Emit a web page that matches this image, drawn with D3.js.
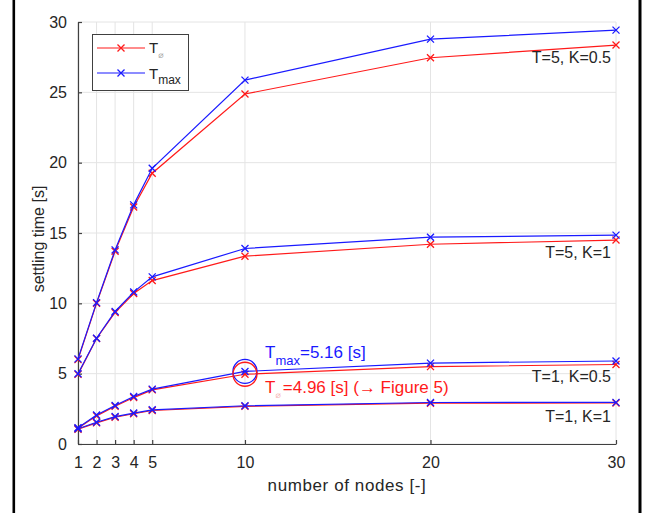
<!DOCTYPE html>
<html>
<head>
<meta charset="utf-8">
<script src="https://cdn.jsdelivr.net/npm/d3@7"></script>
<style>
  html, body { margin: 0; padding: 0; background: #fff; }
  svg { display: block; font-family: "Liberation Sans", Arial, Helvetica, sans-serif; }
</style>
</head>
<body>
<svg id="chart" width="652" height="513"></svg>
<script>
// Number of nodes on the x axis
const nodes = [1, 2, 3, 4, 5, 10, 20, 30];

// Settling times [s]: mean (avg) and maximum for each parameter set
const avgT5K05 = [6.0, 10.0, 13.7, 16.85, 19.25, 24.88, 27.46, 28.36];
const maxT5K05 = [6.05, 10.05, 13.8, 17.0, 19.6, 25.87, 28.78, 29.42];
const avgT5K1  = [4.95, 7.5, 9.35, 10.7, 11.62, 13.35, 14.2, 14.5];
const maxT5K1  = [5.0, 7.52, 9.42, 10.8, 11.88, 13.9, 14.7, 14.85];
const avgT1K05 = [1.12, 2.0, 2.68, 3.3, 3.85, 4.96, 5.5, 5.65];
const maxT1K05 = [1.16, 2.06, 2.74, 3.38, 3.9, 5.16, 5.75, 5.9];
const avgT1K1  = [1.05, 1.5, 1.9, 2.15, 2.38, 2.68, 2.9, 2.92];
const maxT1K1  = [1.08, 1.55, 1.95, 2.2, 2.43, 2.72, 2.95, 2.96];

const curveLabels = ["T=5, K=0.5", "T=5, K=1", "T=1, K=0.5", "T=1, K=1"];
const xTicks = [1, 2, 3, 4, 5, 10, 20, 30];
const yTicks = [0, 5, 10, 15, 20, 25, 30];

// Highlighted point: n = 10 for T=1, K=0.5
const highlightNode = 10;
const highlightMax = 5.16;
const highlightAvg = 4.96;

const avgSeries = [avgT5K05, avgT5K1, avgT1K05, avgT1K1];
const maxSeries = [maxT5K05, maxT5K1, maxT1K05, maxT1K1];

const RED = "#ff1a1a";
const BLUE = "#1a1aff";
const AXIS = "#404040";
const TEXT = "#262626";

const svg = d3.select("#chart");
const W = 652, H = 513;

// frame lines on left and right
svg.append("line").attr("x1", 13.8).attr("x2", 13.8).attr("y1", 0).attr("y2", H)
  .attr("stroke", "#000").attr("stroke-width", 2.6);
svg.append("line").attr("x1", 640).attr("x2", 640).attr("y1", 0).attr("y2", H)
  .attr("stroke", "#000").attr("stroke-width", 3);

const x = d3.scaleLinear().domain([1, 30]).range([78, 616]);
const y = d3.scaleLinear().domain([0, 30]).range([444, 22]);

// grid
const grid = svg.append("g").attr("stroke", "#e4e4e4").attr("stroke-width", 1);
xTicks.forEach(t => grid.append("line")
  .attr("x1", x(t)).attr("x2", x(t)).attr("y1", y(0)).attr("y2", y(30)));
yTicks.forEach(t => grid.append("line")
  .attr("x1", x(1)).attr("x2", x(30)).attr("y1", y(t)).attr("y2", y(t)));

// axes (ticks pointing inward)
const xAxis = d3.axisBottom(x).tickValues(xTicks).tickSizeInner(-4).tickSizeOuter(0).tickPadding(13);
const yAxis = d3.axisLeft(y).tickValues(yTicks).tickSizeInner(-4).tickSizeOuter(0).tickPadding(11);

const gx = svg.append("g").attr("transform", `translate(0,${y(0)})`).call(xAxis);
const gy = svg.append("g").attr("transform", `translate(${x(1)},0)`).call(yAxis);
[gx, gy].forEach(g => {
  g.select(".domain").attr("stroke", AXIS).attr("stroke-width", 1.2);
  g.selectAll(".tick line").attr("stroke", AXIS).attr("stroke-width", 1.2);
  g.selectAll(".tick text").attr("fill", TEXT).attr("font-size", 16)
    .attr("font-family", "'Liberation Sans', Arial, sans-serif");
});

// axis titles
svg.append("text").attr("x", (x(1) + x(30)) / 2).attr("y", 491)
  .attr("text-anchor", "middle").attr("font-size", 17).attr("letter-spacing", 0.6)
  .attr("fill", TEXT).text("number of nodes [-]");
svg.append("text").attr("transform", "translate(44,239) rotate(-90)")
  .attr("text-anchor", "middle").attr("font-size", 16).attr("fill", TEXT)
  .text("settling time [s]");

// lines + cross markers
const line = d3.line().x((d, i) => x(nodes[i])).y(d => y(d));

function drawSeries(values, color) {
  svg.append("path").datum(values).attr("d", line)
    .attr("fill", "none").attr("stroke", color).attr("stroke-width", 1.2);
  const s = 3.5;
  svg.append("g").selectAll("path").data(values).join("path")
    .attr("d", (d, i) => {
      const cx = x(nodes[i]), cy = y(d);
      return `M${cx - s},${cy - s}L${cx + s},${cy + s}M${cx - s},${cy + s}L${cx + s},${cy - s}`;
    })
    .attr("stroke", color).attr("stroke-width", 1.3).attr("fill", "none");
}
avgSeries.forEach(v => drawSeries(v, RED));
maxSeries.forEach(v => drawSeries(v, BLUE));

// curve labels at the right end
const labelBaselines = [63, 258, 382, 422];
curveLabels.forEach((t, i) => {
  svg.append("text").attr("x", 611).attr("y", labelBaselines[i])
    .attr("text-anchor", "end").attr("font-size", 16).attr("fill", TEXT).text(t);
});

// highlighted point circles
svg.append("circle").attr("cx", x(highlightNode)).attr("cy", y(highlightMax)).attr("r", 12)
  .attr("fill", "none").attr("stroke", BLUE).attr("stroke-width", 1.3);
svg.append("circle").attr("cx", x(highlightNode)).attr("cy", y(highlightAvg)).attr("r", 12)
  .attr("fill", "none").attr("stroke", RED).attr("stroke-width", 1.3);

// annotation texts
const tMax = svg.append("text").attr("x", 265).attr("y", 358).attr("font-size", 17).attr("fill", BLUE);
tMax.append("tspan").text("T");
tMax.append("tspan").attr("font-size", 13).attr("dy", 7).text("max");
tMax.append("tspan").attr("dy", -7).text(`=${highlightMax.toFixed(2)} [s]`);

const tAvg = svg.append("text").attr("x", 265).attr("y", 393).attr("font-size", 17).attr("fill", RED);
tAvg.append("tspan").text("T");
tAvg.append("tspan").attr("font-size", 9).attr("dy", 5).attr("fill", "#f4b0b0")
  .attr("font-family", "'DejaVu Sans', sans-serif").text("⌀");
tAvg.append("tspan").attr("dy", -5).attr("dx", 2).text(`=${highlightAvg.toFixed(2)} [s] (→ Figure 5)`);

// legend
const lg = svg.append("g");
lg.append("rect").attr("x", 92.5).attr("y", 34.5).attr("width", 96).attr("height", 56)
  .attr("fill", "#fff").attr("stroke", AXIS).attr("stroke-width", 1);
[[RED, 48], [BLUE, 73]].forEach(([c, ly]) => {
  lg.append("line").attr("x1", 97).attr("x2", 145).attr("y1", ly).attr("y2", ly)
    .attr("stroke", c).attr("stroke-width", 1.2);
  const s = 3.5, cx = 121;
  lg.append("path")
    .attr("d", `M${cx - s},${ly - s}L${cx + s},${ly + s}M${cx - s},${ly + s}L${cx + s},${ly - s}`)
    .attr("stroke", c).attr("stroke-width", 1.3);
});
const l1 = lg.append("text").attr("x", 149).attr("y", 53).attr("font-size", 15).attr("fill", TEXT);
l1.append("tspan").text("T");
l1.append("tspan").attr("font-size", 9).attr("dy", 5).attr("fill", "#a0a0a0")
  .attr("font-family", "'DejaVu Sans', sans-serif").text("⌀");
const l2 = lg.append("text").attr("x", 149).attr("y", 79).attr("font-size", 15).attr("fill", TEXT);
l2.append("tspan").text("T");
l2.append("tspan").attr("font-size", 12).attr("dy", 5).text("max");
</script>
</body>
</html>
